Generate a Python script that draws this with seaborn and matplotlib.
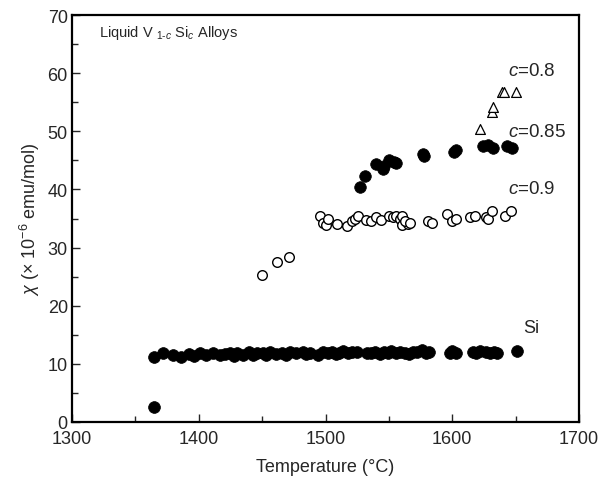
import matplotlib
matplotlib.use("Agg")
import matplotlib.pyplot as plt
import seaborn as sns
import pandas as pd

# ---- data ----
si_T = [1365, 1365, 1372, 1380, 1386, 1392, 1396, 1401, 1406, 1411, 1417, 1421, 1425,
        1428, 1430, 1435, 1440, 1443, 1446, 1451, 1453, 1456, 1461, 1466, 1469, 1472,
        1477, 1482, 1485, 1488, 1494, 1498, 1502, 1505, 1508, 1511, 1514, 1518, 1521,
        1525, 1533, 1536, 1539, 1543, 1546, 1549, 1552, 1556, 1559, 1563, 1566, 1569,
        1572, 1576, 1579, 1582, 1598, 1600, 1603, 1616, 1619, 1622, 1627, 1630, 1633,
        1635, 1651]
si_chi = [2.5, 11.2, 11.9, 11.5, 11.2, 11.7, 11.4, 11.9, 11.6, 11.8, 11.5, 11.7, 11.9,
          11.4, 11.8, 11.6, 12.0, 11.5, 11.8, 11.9, 11.6, 12.1, 11.7, 11.9, 11.5, 12.0,
          11.8, 12.1, 11.7, 11.9, 11.6, 12.0, 11.8, 12.1, 11.7, 11.9, 12.2, 11.8, 12.0,
          12.1, 11.9, 11.8, 12.1, 11.7, 12.0, 11.9, 12.2, 11.8, 12.1, 11.9, 11.7, 12.1,
          12.0, 12.3, 11.9, 12.1, 11.8, 12.2, 11.9, 12.1, 11.8, 12.2, 12.0, 11.8, 12.1,
          11.9, 12.2]

c09_T = [1450, 1462, 1471, 1496, 1498, 1500, 1502, 1509, 1517, 1521, 1523, 1526,
         1532, 1536, 1540, 1544, 1550, 1553, 1556, 1559, 1560, 1565, 1560, 1563, 1567,
         1581, 1584, 1596, 1600, 1603, 1614, 1618, 1627, 1628, 1631, 1642, 1646]
c09_chi = [25.3, 27.6, 28.3, 35.4, 34.3, 33.8, 34.9, 34.1, 33.7, 34.5, 35.0, 35.4,
           34.8, 34.5, 35.2, 34.8, 35.4, 35.2, 35.5, 34.9, 33.8, 34.1, 35.5, 34.6, 34.3,
           34.6, 34.2, 35.8, 34.6, 34.9, 35.2, 35.4, 35.2, 34.9, 36.3, 35.5, 36.3]

c085_T = [1527, 1531, 1540, 1545, 1546, 1550, 1554, 1556, 1577, 1578, 1601, 1603,
          1624, 1628, 1632, 1643, 1647]
c085_chi = [40.4, 42.3, 44.4, 43.6, 44.0, 45.1, 44.7, 44.6, 46.1, 45.8, 46.5, 46.7,
            47.4, 47.6, 47.2, 47.5, 47.1]

c08_T = [1622, 1631, 1632, 1639, 1641, 1650]
c08_chi = [50.4, 53.3, 54.1, 56.8, 56.8, 56.8]

x_ticks = [1300, 1400, 1500, 1600, 1700]
y_ticks = [0, 10, 20, 30, 40, 50, 60, 70]

sns.set_style("ticks")
plt.rcParams['font.family'] = ['Liberation Sans', 'DejaVu Sans']
plt.rcParams['mathtext.fontset'] = 'custom'
plt.rcParams['mathtext.rm'] = 'Liberation Sans'
plt.rcParams['mathtext.it'] = 'Liberation Sans:italic'

fig = plt.figure(figsize=(6.01, 4.81), dpi=100)
ax = fig.add_axes([0.1198, 0.1206, 0.8436, 0.8461])

df_si = pd.DataFrame({"T": si_T, "chi": si_chi})
df_09 = pd.DataFrame({"T": c09_T, "chi": c09_chi})
df_085 = pd.DataFrame({"T": c085_T, "chi": c085_chi})
df_08 = pd.DataFrame({"T": c08_T, "chi": c08_chi})

sns.scatterplot(data=df_si, x="T", y="chi", ax=ax, s=72, color="black",
                edgecolor="black", linewidth=0.5, marker="o", legend=False)
sns.scatterplot(data=df_09, x="T", y="chi", ax=ax, s=48, facecolor="white",
                edgecolor="black", linewidth=1.0, marker="o", legend=False)
sns.scatterplot(data=df_085, x="T", y="chi", ax=ax, s=70, color="black",
                edgecolor="black", linewidth=0.5, marker="o", legend=False)
sns.scatterplot(data=df_08, x="T", y="chi", ax=ax, s=50, facecolor="white",
                edgecolor="black", linewidth=0.9, marker="^", legend=False)

ax.set_xlim(1300, 1700)
ax.set_ylim(0, 70)
ax.set_xticks(x_ticks)
ax.set_yticks(y_ticks)
ax.set_xticks([1350, 1450, 1550, 1650], minor=True)
ax.set_yticks([5, 15, 25, 35, 45, 55, 65], minor=True)
ax.tick_params(axis="x", which="major", pad=6)
ax.tick_params(axis="y", which="major", pad=3)
ax.tick_params(axis="both", which="major", direction="in", length=6, width=1,
               labelsize=13, top=False, right=False)
ax.tick_params(axis="both", which="minor", direction="in", length=4, width=1,
               top=False, right=False)
for sp in ax.spines.values():
    sp.set_visible(True)
    sp.set_linewidth(1.6)
    sp.set_color("black")

ax.set_xlabel("Temperature (°C)", fontsize=13, labelpad=8)
ax.set_ylabel(r"$\chi$ (× 10$^{-6}$ emu/mol)", fontsize=13, labelpad=4)

ax.text(1321, 67.1, r"Liquid V $_{1\text{-}c}$ Si$_{c}$ Alloys", fontsize=10.5,
        ha="left", va="center")
ax.text(1644, 60.4, r"$c$=0.8", fontsize=13.5, ha="left", va="center")
ax.text(1644, 49.9, r"$c$=0.85", fontsize=13.5, ha="left", va="center")
ax.text(1644, 40.2, r"$c$=0.9", fontsize=13.5, ha="left", va="center")
ax.text(1656, 16.3, "Si", fontsize=13, ha="left", va="center")

fig.savefig("out.png", dpi=100)
